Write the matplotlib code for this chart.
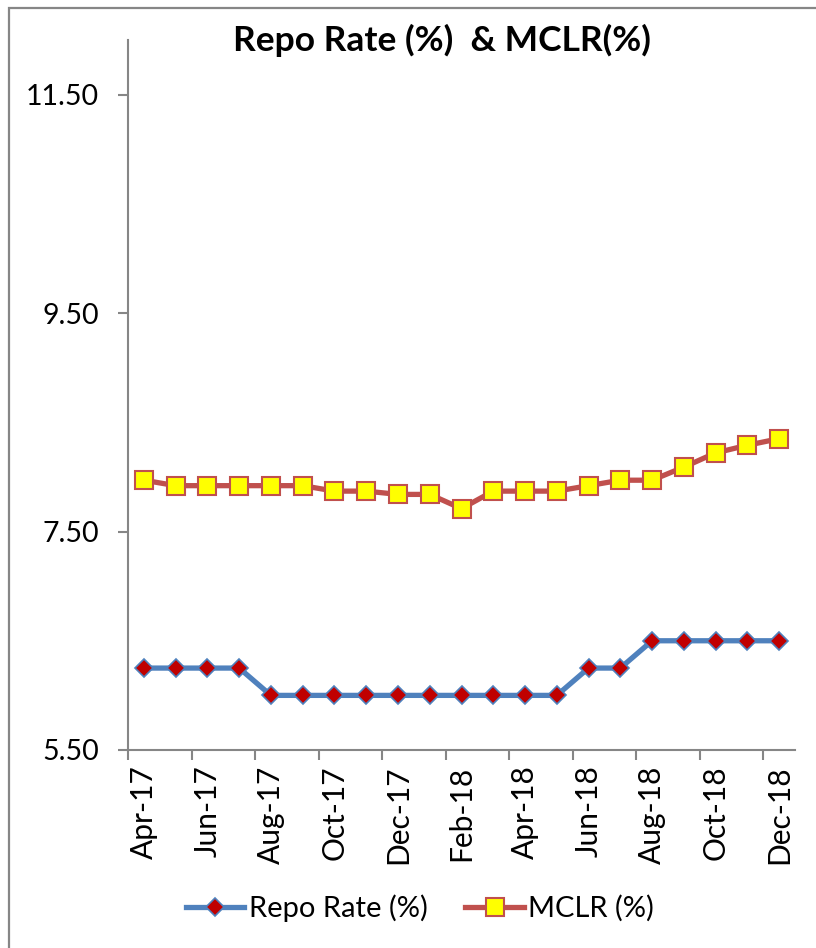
import matplotlib
matplotlib.use("Agg")
import matplotlib.pyplot as plt
from matplotlib.lines import Line2D
from matplotlib.patches import Rectangle

months = ["Apr-17", "May-17", "Jun-17", "Jul-17", "Aug-17", "Sep-17", "Oct-17",
          "Nov-17", "Dec-17", "Jan-18", "Feb-18", "Mar-18", "Apr-18", "May-18",
          "Jun-18", "Jul-18", "Aug-18", "Sep-18", "Oct-18", "Nov-18", "Dec-18"]
repo_rate = [6.25, 6.25, 6.25, 6.25, 6.00, 6.00, 6.00, 6.00, 6.00, 6.00, 6.00,
             6.00, 6.00, 6.00, 6.25, 6.25, 6.50, 6.50, 6.50, 6.50, 6.50]
mclr = [7.97, 7.92, 7.92, 7.92, 7.92, 7.92, 7.87, 7.87, 7.84, 7.84, 7.71,
        7.87, 7.87, 7.87, 7.92, 7.97, 7.97, 8.09, 8.22, 8.29, 8.35]
y_ticks = [5.50, 7.50, 9.50, 11.50]

FONT = "Lato"
plt.rcParams["font.family"] = [FONT, "DejaVu Sans"]

fig = plt.figure(figsize=(8.16, 9.48), dpi=100)
ax = fig.add_axes([128 / 816, 1 - 750 / 948, (795 - 128) / 816, (750 - 40) / 948])

x = list(range(len(months)))
ax.plot(x, repo_rate, color="#4F81BD", lw=3.8, marker="D", ms=9.5,
        mfc="#C00000", mec="#4F81BD", mew=1.2, solid_joinstyle="round",
        label="Repo Rate (%)", zorder=3)
ax.plot(x, mclr, color="#C0504D", lw=3.8, marker="s", ms=13,
        mfc="#FFFF00", mec="#C0504D", mew=1.5, solid_joinstyle="round",
        label="MCLR (%)", zorder=3)

ax.set_xlim(-0.5, len(months) - 0.5)
ax.set_ylim(5.5, 12.0)

ax.set_yticks(y_ticks)
ax.set_yticklabels([f"{v:.2f}" for v in y_ticks])

ax.set_xticks(x[::2])
ax.set_xticklabels(months[::2], rotation=90)
ax.set_xticks([i - 0.5 for i in range(0, len(months), 2)], minor=True)

for s in ["top", "right"]:
    ax.spines[s].set_visible(False)
for s in ["left", "bottom"]:
    ax.spines[s].set_color("#868686")
    ax.spines[s].set_linewidth(1.5)

ax.tick_params(axis="y", direction="out", length=7, width=1.5, color="#868686",
               labelsize=20.5, pad=14)
ax.tick_params(axis="x", which="major", length=0, labelsize=21.5, pad=11)
ax.tick_params(axis="x", which="minor", direction="out", length=7, width=1.5,
               color="#868686")

fig.text(442 / 816, 1 - 40 / 948, "Repo Rate (%)  & MCLR(%)", ha="center",
         va="center", fontsize=25.5, fontweight="bold")

handles = [
    Line2D([], [], color="#4F81BD", lw=3.8, marker="D", ms=9.5, mfc="#C00000",
           mec="#4F81BD", mew=1.2),
    Line2D([], [], color="#C0504D", lw=3.8, marker="s", ms=13, mfc="#FFFF00",
           mec="#C0504D", mew=1.5),
]
fig.legend(handles, ["Repo Rate (%)", "MCLR (%)"], loc="center",
           bbox_to_anchor=(420 / 816, 1 - 908 / 948), ncol=2, frameon=False,
           fontsize=21, handlelength=2.0, handletextpad=0.15, columnspacing=1.3)

# outer chart frame
fig.add_artist(Rectangle((9 / 816, -0.1), 1.2, 1.1 - 8 / 948,
                         transform=fig.transFigure, fill=False,
                         edgecolor="#868686", lw=1.6))

fig.savefig("out.png", dpi=100)
